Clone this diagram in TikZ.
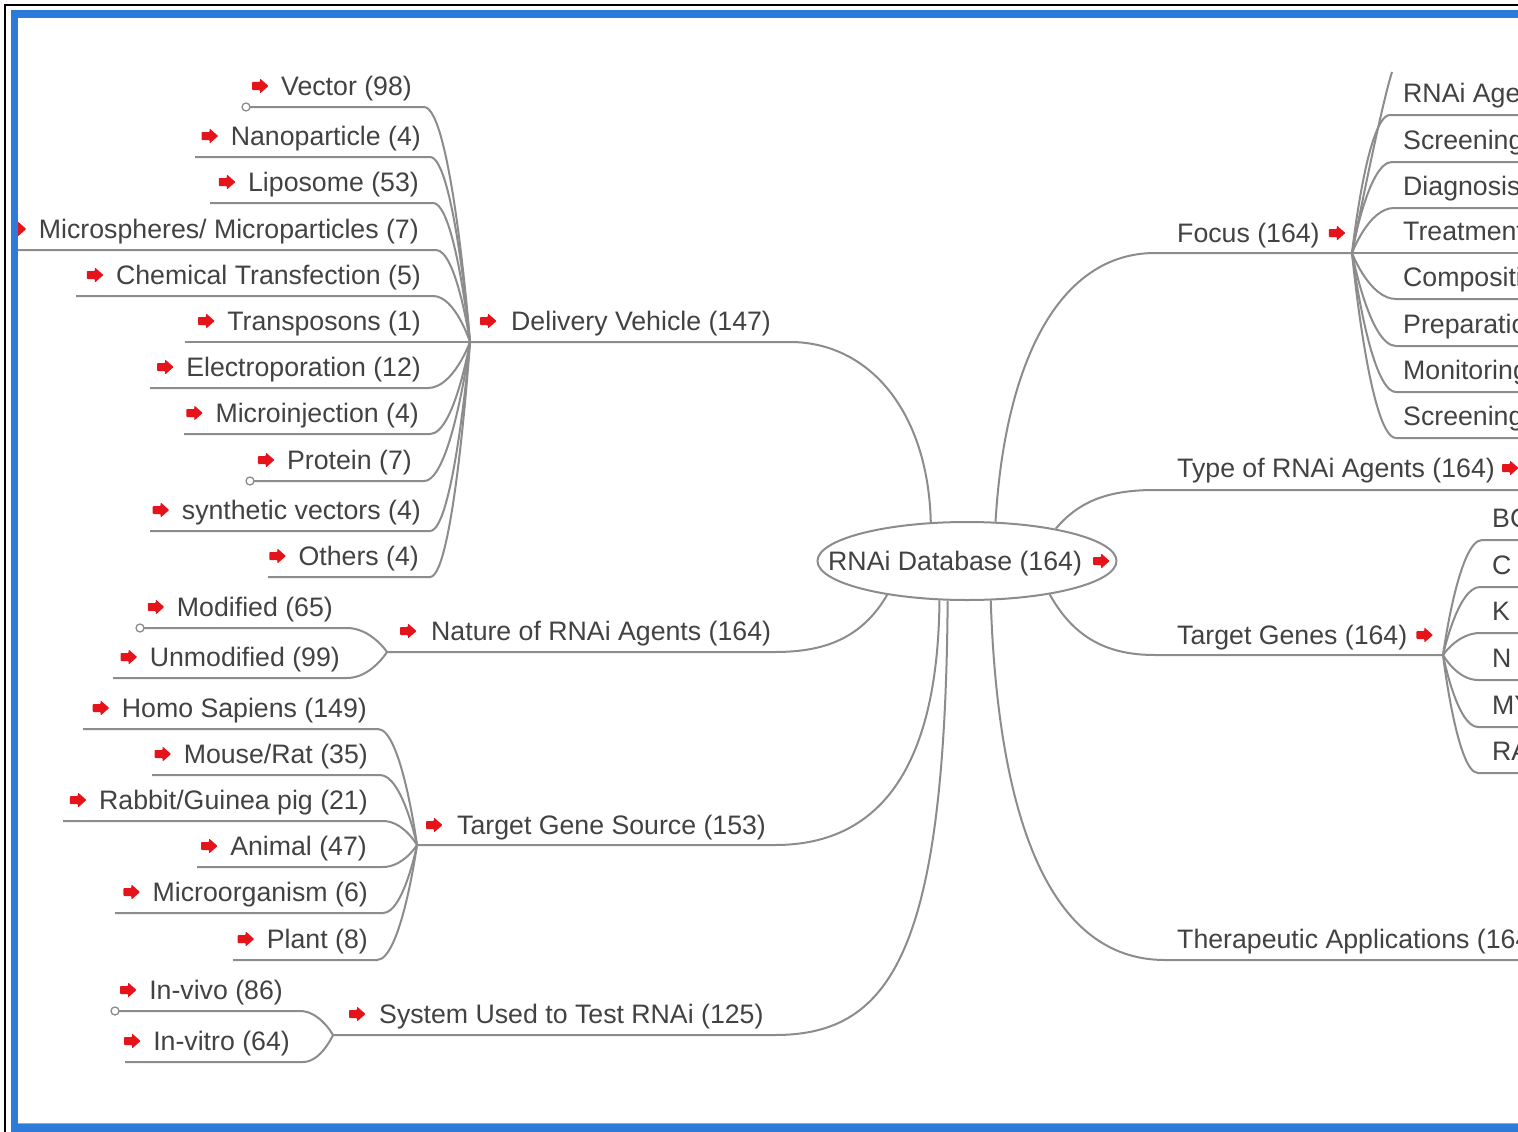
\documentclass[tikz,border=0pt]{standalone}
\usepackage{fontspec}
\setmainfont{Liberation Sans}
\usetikzlibrary{calc,shapes.geometric}
\definecolor{txt}{HTML}{424242}
\definecolor{ln}{HTML}{8C8C8C}
\definecolor{arr}{HTML}{E5141B}
\definecolor{bblue}{HTML}{2C7BDB}
\tikzset{
  lbl/.style={font=\fontsize{26.7}{30}\selectfont, text=txt, inner sep=0pt},
  conn/.style={draw=ln, line width=2pt},
  knob/.style={circle, draw=ln, line width=1.3pt, fill=white, minimum size=8pt, inner sep=0pt},
  redarr/.pic={\fill[arr, rounded corners=0.8pt] (-8,-4) -- (0,-4) -- (0,-7.5) -- (8.5,0) -- (0,7.5) -- (0,4) -- (-8,4) -- cycle;},
}
% left leaf: name, text east x, center y, text, underline left x, underline right x, junction
\newcommand\lleaf[7]{%
  \node[lbl, anchor=base east] (#1) at (#2,#3+9.5) {#4};
  \pic at ($(#1.base west)+(-21,-9.5)$) {redarr};
  \coordinate (#1L) at (#5,#3+21);
  \coordinate (#1R) at (#6,#3+21);
  \draw[conn] (#1L) -- (#1R)
    let \p1=(#1R), \p2=(#7) in .. controls ({\x1+0.6*(\x2-\x1)},\y1) and (#7) .. (#7);
}
% right leaf: name, text west x, center y, text, underline left x, junction
\newcommand\rleaf[6]{%
  \node[lbl, anchor=base west] (#1) at (#2,#3+9.5) {#4};
  \coordinate (#1L) at (#5,#3+22);
  \coordinate (#1E) at (1540,#3+22);
  \draw[conn] (#6) let \p1=(#1L), \p2=(#6) in .. controls (#6) and ({\x1-0.6*(\x1-\x2)},\y1) .. (#1L) -- (#1E);
}
\begin{document}
\begin{tikzpicture}[x=1pt,y=-1pt]
\useasboundingbox (0,0) rectangle (1518,1132);
\clip (0,0) rectangle (1518,1132);
\fill[white] (0,0) rectangle (1518,1132);

% ---------- central node ----------
\node[ellipse, draw=ln, line width=2pt, minimum width=299pt, minimum height=78pt, inner sep=0pt] (db) at (967,561) {};
\node[lbl, anchor=base west] (dbt) at (828,570.5) {RNAi Database (164)};
\pic at ($(dbt.base east)+(19,-9.5)$) {redarr};

% ---------- Delivery Vehicle ----------
\coordinate (dvJ) at (470,342);
\node[lbl, anchor=base west] (dv) at (511,330.5) {Delivery Vehicle (147)};
\pic at ($(dv.base west)+(-23,-9.5)$) {redarr};
\coordinate (dvE) at (790,342);
\draw[conn] (dvJ) -- (dvE) .. controls (868,342) and (928,410) .. (db.133);

\lleaf{vec}{412}{86}{Vector (98)}{246}{424}{dvJ}
\lleaf{nan}{421}{136}{Nanoparticle (4)}{195}{430}{dvJ}
\lleaf{lip}{419}{182}{Liposome (53)}{210}{433}{dvJ}
\lleaf{mic}{419}{229}{Microspheres/ Microparticles (7)}{18}{436}{dvJ}
\lleaf{che}{421}{275}{Chemical Transfection (5)}{76}{433}{dvJ}
\lleaf{tra}{421}{321}{Transposons (1)}{185}{440}{dvJ}
\lleaf{ele}{421}{367}{Electroporation (12)}{150}{428}{dvJ}
\lleaf{mij}{419}{413}{Microinjection (4)}{184}{430}{dvJ}
\lleaf{pro}{412}{460}{Protein (7)}{250}{424}{dvJ}
\lleaf{syn}{421}{510}{synthetic vectors (4)}{150}{430}{dvJ}
\lleaf{oth}{419}{556}{Others (4)}{268}{430}{dvJ}

% ---------- Nature of RNAi Agents ----------
\coordinate (naJ) at (387,652);
\node[lbl, anchor=base west] (na) at (431,640.5) {Nature of RNAi Agents (164)};
\pic at ($(na.base west)+(-23,-9.5)$) {redarr};
\coordinate (naE) at (775,652);
\draw[conn] (naJ) -- (naE) .. controls (825,652) and (862,638) .. (db.203);
\lleaf{mod}{333}{607}{Modified (65)}{140}{347}{naJ}
\lleaf{unm}{340}{657}{Unmodified (99)}{113}{347}{naJ}

% ---------- Target Gene Source ----------
\coordinate (tsJ) at (417,845);
\node[lbl, anchor=base west] (ts) at (457,834.5) {Target Gene Source (153)};
\pic at ($(ts.base west)+(-23,-9.5)$) {redarr};
\coordinate (tsE) at (775,845);
\draw[conn] (tsJ) -- (tsE) .. controls (885,845) and (938,760) .. (db.235);
\lleaf{hom}{367}{708}{Homo Sapiens (149)}{83}{378}{tsJ}
\lleaf{mou}{368}{754}{Mouse/Rat (35)}{152}{380}{tsJ}
\lleaf{rab}{368}{800}{Rabbit/Guinea pig (21)}{63}{383}{tsJ}
\lleaf{ani}{367}{846}{Animal (47)}{197}{383}{tsJ}
\lleaf{mio}{368}{892}{Microorganism (6)}{115}{383}{tsJ}
\lleaf{pla}{368}{939}{Plant (8)}{233}{377}{tsJ}

% ---------- System Used to Test RNAi ----------
\coordinate (syJ) at (333,1035);
\node[lbl, anchor=base west] (sy) at (379,1023.5) {System Used to Test RNAi (125)};
\pic at ($(sy.base west)+(-22,-9.5)$) {redarr};
\coordinate (syE) at (775,1035);
\draw[conn] (syJ) -- (syE) .. controls (892,1035) and (945,950) .. (db.244);
\lleaf{viv}{283}{990}{In-vivo (86)}{115}{300}{syJ}
\lleaf{vit}{290}{1041}{In-vitro (64)}{125}{303}{syJ}

% knobs
\node[knob] at (vecL) {};
\node[knob] at (proL) {};
\node[knob] at (modL) {};
\node[knob] at (vivL) {};

% ---------- Focus ----------
\coordinate (fcJ) at (1352,253);
\node[lbl, anchor=base west] (fc) at (1177,242.5) {Focus (164)};
\pic at ($(fc.base east)+(17,-9.5)$) {redarr};
\coordinate (fcS) at (1155,253);
\draw[conn] (fcJ) -- (fcS) .. controls (1060,253) and (1005,360) .. (db.54);
\coordinate (fcT) at (1392,72);
\draw[conn] (fcJ) .. controls (fcJ) and (1380,110) .. (fcT);
\rleaf{f1}{1403}{93}{RNAi Agents}{1390}{fcJ}
\rleaf{f2}{1403}{140}{Screening}{1392}{fcJ}
\rleaf{f3}{1403}{186}{Diagnosis}{1394}{fcJ}
\rleaf{f4}{1403}{231}{Treatment}{1396}{fcJ}
\rleaf{f5}{1403}{277}{Composition}{1396}{fcJ}
\rleaf{f6}{1403}{324}{Preparation}{1396}{fcJ}
\rleaf{f7}{1403}{370}{Monitoring}{1396}{fcJ}
\rleaf{f8}{1403}{416}{Screening}{1396}{fcJ}

% ---------- Type of RNAi Agents ----------
\node[lbl, anchor=base west] (ty) at (1177,477.5) {Type of RNAi Agents (164)};
\pic at ($(ty.base east)+(15,-9.5)$) {redarr};
\coordinate (tyS) at (1155,490);
\coordinate (tyE) at (1540,490);
\draw[conn] (tyE) -- (tyS) .. controls (1110,490) and (1080,500) .. (db.20);

% ---------- Target Genes ----------
\coordinate (tgJ) at (1443,655);
\node[lbl, anchor=base west] (tg) at (1177,644.5) {Target Genes (164)};
\pic at ($(tg.base east)+(17,-9.5)$) {redarr};
\coordinate (tgS) at (1155,655);
\draw[conn] (tgJ) -- (tgS) .. controls (1110,655) and (1075,640) .. (db.-22);
\rleaf{g1}{1492}{518}{BCL2}{1482}{tgJ}
\rleaf{g2}{1492}{565}{C RAF}{1480}{tgJ}
\rleaf{g3}{1492}{611}{K RAS}{1480}{tgJ}
\rleaf{g4}{1492}{658}{N RAS}{1478}{tgJ}
\rleaf{g5}{1492}{705}{MYC}{1478}{tgJ}
\rleaf{g6}{1492}{751}{RAS}{1478}{tgJ}

% ---------- Therapeutic Applications ----------
\node[lbl, anchor=base west] (th) at (1177,948.5) {Therapeutic Applications (164)};
\coordinate (thS) at (1165,960);
\coordinate (thE) at (1540,960);
\draw[conn] (thE) -- (thS) .. controls (1050,960) and (998,820) .. (db.-59);

% ---------- frame ----------
\fill[white] (0,0) rectangle (11,1132);
\fill[white] (0,0) rectangle (1518,10);
\draw[black, line width=2pt] (5,1132) -- (5,5) -- (1518,5);
\fill[bblue] (11,10) rectangle (18,1132);
\fill[bblue] (11,10) rectangle (1518,18);
\fill[bblue] (11,1124) rectangle (1518,1132);
\draw[bblue!60!white, line width=1pt] (18,1123.5) -- (1518,1123.5);
\end{tikzpicture}
\end{document}
